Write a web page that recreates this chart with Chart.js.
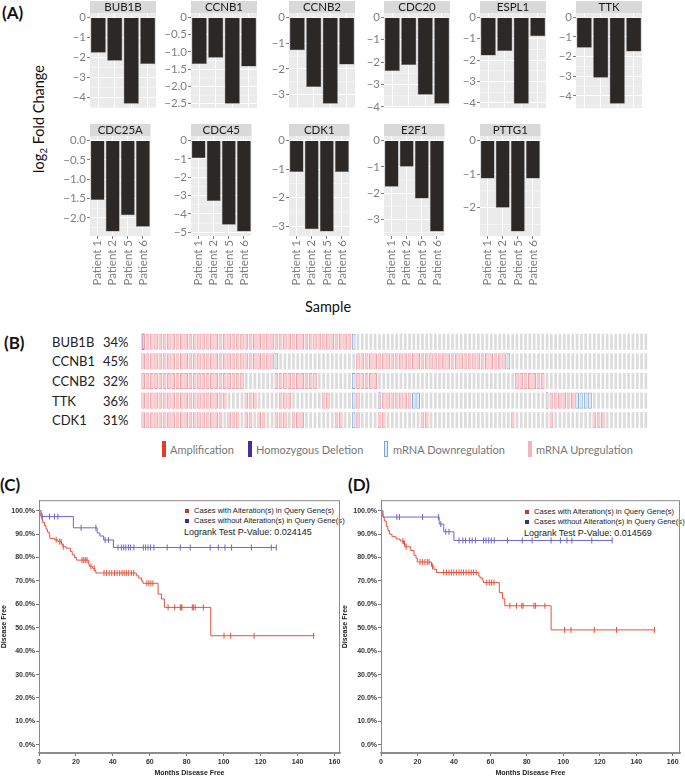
<!DOCTYPE html>
<html><head><meta charset="utf-8">
<script src="https://cdn.jsdelivr.net/npm/chart.js@4.4.1/dist/chart.umd.min.js"></script>
<style>
html,body{margin:0;padding:0;background:#fff;}
body{width:685px;height:779px;position:relative;overflow:hidden;font-family:Lato,sans-serif;}
canvas{position:absolute;}
.t{position:absolute;white-space:nowrap;line-height:1;}
.c{transform:translate(-50%,-50%);}
.l{transform:translate(0,-50%);}
.lab{font-family:Lato;font-weight:700;font-size:17px;color:#111;}
.gene{font-family:Lato;font-size:13px;color:#222;}
.leg{font-family:Lato;font-size:11px;color:#777;}
.kmleg{font-family:'Liberation Sans';font-size:7.6px;color:#222;}
.kmp{font-family:'Liberation Sans';font-size:9px;color:#222;}
.bar{position:absolute;width:4px;height:16px;}
.sq{position:absolute;width:4px;height:4px;}
</style></head><body>

<div class="t lab" style="left:2px;top:4px;">(A)</div>
<div class="t c" style="left:40px;top:119px;font-family:Lato;font-size:14.5px;color:#111;transform:translate(-50%,-50%) rotate(-90deg);">log<sub style="font-size:10px;">2</sub> Fold Change</div>
<div class="t c" style="left:328px;top:307px;font-family:Lato;font-size:14.5px;color:#111;">Sample</div>

<div class="t lab l" style="left:4px;top:342px;">(B)</div>
<div id="bLabels"></div>

<div class="bar" style="left:162px;top:441px;background:#E8392B;"></div>
<div class="t leg l" style="left:170px;top:449px;">Amplification</div>
<div class="bar" style="left:248px;top:441px;background:#4B2C9B;"></div>
<div class="t leg l" style="left:256px;top:449px;">Homozygous Deletion</div>
<div class="bar" style="left:384px;top:441px;background:#E4E9F1;box-sizing:border-box;border:1px solid #7FA8D6;"></div>
<div class="t leg l" style="left:393px;top:449px;">mRNA Downregulation</div>
<div class="bar" style="left:528px;top:441px;background:#F3B5BC;"></div>
<div class="t leg l" style="left:536px;top:449px;">mRNA Upregulation</div>

<div class="t lab l" style="left:0px;top:484px;">(C)</div>
<div class="t lab l" style="left:348px;top:484px;">(D)</div>

<div class="sq" style="left:185px;top:509px;background:#C8372D;"></div>
<div class="t kmleg l" style="left:194px;top:511px;">Cases with Alteration(s) in Query Gene(s)</div>
<div class="sq" style="left:185px;top:519px;background:#3C2D8C;"></div>
<div class="t kmleg l" style="left:194px;top:521px;">Cases without Alteration(s) in Query Gene(s)</div>
<div class="t kmp l" style="left:184px;top:532px;">Logrank Test P-Value: 0.024145</div>

<div class="sq" style="left:525px;top:510px;background:#C8372D;"></div>
<div class="t kmleg l" style="left:534px;top:512px;">Cases with Alteration(s) in Query Gene(s)</div>
<div class="sq" style="left:525px;top:520px;background:#3C2D8C;"></div>
<div class="t kmleg l" style="left:534px;top:522px;">Cases without Alteration(s) in Query Gene(s)</div>
<div class="t kmp l" style="left:524px;top:533px;">Logrank Test P-Value: 0.014569</div>

<script>
// ---------------- Panel A data ----------------
const patients = ['Patient 1','Patient 2','Patient 5','Patient 6'];
const genesA = ['BUB1B','CCNB1','CCNB2','CDC20','ESPL1','TTK','CDC25A','CDC45','CDK1','E2F1','PTTG1'];
const fcBUB1B  = [-1.78,-2.18,-4.33,-2.34];
const fcCCNB1  = [-1.35,-1.17,-2.50,-1.42];
const fcCCNB2  = [-1.28,-2.70,-3.35,-1.83];
const fcCDC20  = [-2.40,-2.13,-3.46,-3.86];
const fcESPL1  = [-1.78,-1.57,-4.04,-0.89];
const fcTTK    = [-1.55,-3.08,-4.40,-1.74];
const fcCDC25A = [-1.54,-2.35,-1.93,-2.23];
const fcCDC45  = [-0.97,-3.30,-4.60,-4.96];
const fcCDK1   = [-1.10,-3.10,-3.18,-1.10];
const fcE2F1   = [-1.76,-1.00,-2.21,-3.46];
const fcPTTG1  = [-1.13,-2.00,-2.71,-1.13];
const valuesA = [fcBUB1B,fcCCNB1,fcCCNB2,fcCDC20,fcESPL1,fcTTK,fcCDC25A,fcCDC45,fcCDK1,fcE2F1,fcPTTG1];
const yTicksA = [
  ['0','−1','−2','−3','−4'],
  ['0','−0.5','−1.0','−1.5','−2.0','−2.5'],
  ['0','−1','−2','−3'],
  ['0','−1','−2','−3','−4'],
  ['0','−1','−2','−3','−4'],
  ['0','−1','−2','−3','−4'],
  ['0.0','−0.5','−1.0','−1.5','−2.0'],
  ['0','−1','−2','−3','−4','−5'],
  ['0','−1','−2','−3'],
  ['0','−1','−2','−3'],
  ['0','−1','−2']
];

// ---------------- Panel B data (run-length coded per sample column) ----------------
// '.' none, 'U' mRNA up, 'W' mRNA down, 'D' homozygous deletion, 'X' deletion + mRNA up
const genesB = ['BUB1B','CCNB1','CCNB2','TTK','CDK1'];
const pctB = ['34%','45%','32%','36%','31%'];
const runsBUB1B = [['X',1],['U',48],['W',1],['.',68]];
const runsCCNB1 = [['U',31],['W',1],['.',18],['U',35],['W',1],['.',32]];
const runsCCNB2 = [['U',24],['.',7],['U',10],['.',8],['W',1],['U',5],['.',32],['U',7],['.',24]];
const runsTTK   = [['U',20],['.',4],['U',3],['.',5],['U',3],['.',7],['U',2],['.',5],['W',1],['U',1],['.',4],['D',1],['U',7],['W',2],['.',29],['D',1],['U',6],['W',4],['.',13]];
const runsCDK1  = [['U',19],['.',1],['U',3],['.',1],['U',2],['.',1],['U',2],['.',2],['U',3],['.',1],['U',3],['.',7],['U',2],['.',2],['W',1],['U',1],['.',4],['U',2],['.',8],['U',2],['.',19],['U',1],['.',8],['U',1],['.',9],['U',3],['.',10]];

// ---------------- Panels C / D data ----------------
const kmTicksX = [0,20,40,60,80,100,120,140,160];
const kmTicksY = [0,10,20,30,40,50,60,70,80,90,100];
const cAltT = [0,0.5,1,1.5,2,3,3.8,4.5,5.5,5.9,8.4,10.2,12.2,12.9,14.7,17,18,19.2,20.4,26.9,27.2,29,30.3,30.8,52.7,54,55.5,56.3,64.5,66.3,67.9,93,149.1];
const cAltS = [100,98.8,97.5,96.3,95,93.6,92.2,90.9,89.6,88.2,87.6,86.8,85.8,84.6,84,82.6,81.2,80,78.9,77.2,76.2,75.4,74.4,73.4,72.2,71.2,70.1,69,64.4,62.3,58.7,46.6,46.6];
const cAltCens = [9.3,11.2,12.0,13.1,23.3,24.2,25.1,26.0,28.1,29.9,35.2,36.6,38.0,39.4,40.9,42.3,43.7,45.0,46.1,47.3,48.6,50.0,51.3,58.4,59.5,60.6,61.7,69.9,73.5,76.5,77.0,77.4,83.0,83.6,84.6,89.0,100.2,103.8,116.5,148.7];
const cUnaltT = [0,1.2,18.6,31.5,33,35,40.3,128.5];
const cUnaltS = [100,97.5,92.7,90.5,89.2,87.5,84.3,84.3];
const cUnaltCens = [1.8,5.7,8.4,10.2,22.8,30.8,35.8,37.6,42.8,44.6,45.9,47.0,48.4,49.6,51.4,56.5,57.7,59.0,60.4,62.2,69.4,76.5,81.9,92.7,97.1,100.7,104.3,115.0,125.8,128.5];

const dAltT = [0,0.5,1.1,1.8,2.9,3.8,4.7,6,8.3,10.5,12.3,13.2,16.3,18.1,19.2,19.9,27.7,29,30.4,53.6,54.3,55.8,56.2,64.9,66.7,67.9,93.3,150];
const dAltS = [100,98.6,97.2,95.6,93.3,91.5,90,88.9,87.9,87.1,86,84.6,83,81,79.7,78.1,76.2,75,73.6,72.1,71.3,70.1,69.3,65,62.4,59.4,49.1,49.1];
const dAltCens = [12.0,12.9,13.8,21.4,22.8,24.1,25.4,26.4,28.3,34.4,35.9,37.3,38.6,39.9,41.3,42.8,44,45.3,46.7,48.2,49.5,50.7,52.2,58,59.4,60.7,62,70.7,74.3,77.2,77.9,83.9,84.8,89.9,100.7,104.2,117,129.2,150];
const dUnaltT = [0,1.1,31.9,34.4,40,126.8];
const dUnaltS = [100,97.3,94.3,91,87.3,87.3];
const dUnaltCens = [8.7,10.1,22.8,31.5,32.8,35.5,37.3,42.8,44.9,46.4,48.6,50,51.8,56.2,57.6,59.1,60.5,62.1,69.4,77.5,82.9,93.3,98.4,102,104.7,115.6,126.8];

// ---------------- layout ----------------
const panelLeftA = [90,191,289,384,480,576,90,191,289,384,480];
const panelW = 66, panelH = 100, stripH = 12, yAxisW = 40;

Chart.defaults.animation = false;
Chart.defaults.responsive = false;
Chart.defaults.devicePixelRatio = 1;
Chart.defaults.plugins.legend.display = false;
Chart.defaults.plugins.tooltip.enabled = false;

function makeCanvas(left, top, w, h){
  const cv = document.createElement('canvas');
  cv.width = w; cv.height = h;
  cv.style.left = left+'px'; cv.style.top = top+'px';
  cv.style.width = w+'px'; cv.style.height = h+'px';
  document.body.appendChild(cv);
  return cv;
}

const facetPlugin = {
  id:'facet',
  beforeDraw(chart){
    const {ctx, chartArea:a} = chart;
    ctx.save();
    ctx.fillStyle = '#EBEBEB';
    ctx.fillRect(a.left, a.top, a.right-a.left, a.bottom-a.top);
    ctx.fillStyle = '#D9D9D9';
    ctx.fillRect(a.left, a.top-stripH, a.right-a.left, stripH);
    ctx.fillStyle = '#1a1a1a';
    ctx.font = '11.5px Lato';
    ctx.textAlign = 'center'; ctx.textBaseline = 'middle';
    ctx.fillText(chart.options.plugins.facet.title, (a.left+a.right)/2, a.top-stripH/2+0.5);
    ctx.restore();
  },
  beforeDatasetsDraw(chart){
    const {ctx, chartArea:a} = chart;
    const y = chart.scales.y;
    const tv = y.ticks.map(t=>t.value);
    if (tv.length < 2) return;
    const step = Math.abs(tv[1]-tv[0]);
    const mids = tv.map(v=>v-step/2).concat([tv[0]+step/2]);
    ctx.save();
    ctx.strokeStyle = '#FFFFFF'; ctx.lineWidth = 0.5;
    mids.forEach(v=>{
      if (v < y.min || v > y.max) return;
      const py = y.getPixelForValue(v);
      ctx.beginPath(); ctx.moveTo(a.left, py); ctx.lineTo(a.right, py); ctx.stroke();
    });
    ctx.restore();
  }
};

genesA.forEach((g,i)=>{
  const row2 = i >= 6;
  const T = row2 ? 136 : 13;
  const L = panelLeftA[i];
  const xH = row2 ? 56 : 3;
  const cv = makeCanvas(L-yAxisW, T-stripH, yAxisW+panelW+2, stripH+panelH+xH);
  const vals = valuesA[i];
  const mn = Math.min(...vals);
  const ext = -mn*0.05;
  const tickVals = yTicksA[i].map(s=>parseFloat(s.replace('−','-')));
  new Chart(cv, {
    type:'bar',
    data:{labels:patients, datasets:[{data:vals, backgroundColor:'#2b2826', borderColor:'#6b6b6b', borderWidth:0.5, barPercentage:0.92, categoryPercentage:1}]},
    options:{
      layout:{padding:{top:stripH, right:2, left:0, bottom:0}},
      plugins:{facet:{title:g}},
      scales:{
        x:{
          grid:{color:'#FFFFFF', lineWidth:1, offset:false, drawTicks:row2, tickLength:3, tickColor:'#7f7f7f'},
          border:{display:false},
          ticks:{display:row2, minRotation:90, maxRotation:90, autoSkip:false, color:'#7f7f7f', font:{family:'Lato', size:11.5}, padding:1},
          afterFit:s=>{s.height = xH;}
        },
        y:{
          min: mn-ext, max: ext,
          afterBuildTicks:s=>{s.ticks = tickVals.map(v=>({value:v}));},
          grid:{color:'#FFFFFF', lineWidth:1, tickLength:3, tickColor:'#7f7f7f'},
          border:{display:false},
          ticks:{color:'#7f7f7f', font:{family:'Lato', size:11.5}, padding:1, callback:(v,idx)=>yTicksA[i][idx]},
          afterFit:s=>{s.width = yAxisW;}
        }
      }
    },
    plugins:[facetPlugin]
  });
});

// ---------------- Panel B ----------------
function expandRuns(runs){ const out=[]; runs.forEach(([c,n])=>{ for(let k=0;k<n;k++) out.push(c); }); return out; }
const codesB = [runsBUB1B,runsCCNB1,runsCCNB2,runsTTK,runsCDK1].map(expandRuns);
const sampleCols = codesB[0].map((_,k)=>String(k+1));
const bTop = 332, bPitch = 19.6, bLeft = 141, bWidth = 507;
const cellTypes = [
  {codes:['.','D'], bg:'#DCDCDC', bc:'#DCDCDC', bw:0, bp:0.62},
  {codes:['U','X'], bg:'#F8CDD1', bc:'#EFA1AA', bw:1, bp:0.86},
  {codes:['W'],     bg:'#E4E9F1', bc:'#7FA8D6', bw:1, bp:0.86},
  {codes:['D','X'], bg:'#4A2794', bc:'#4A2794', bw:0, bp:0.5}
];
const dsB = [];
cellTypes.forEach(tp=>{
  codesB.forEach((codes,r)=>{
    dsB.push({
      data: codes.map(c => tp.codes.includes(c) ? [r-0.41, r+0.41] : null),
      backgroundColor: tp.bg, borderColor: tp.bc, borderWidth: tp.bw, borderSkipped:false,
      barPercentage: tp.bp, categoryPercentage: 1, grouped:false
    });
  });
});
new Chart(makeCanvas(bLeft, bTop, bWidth, Math.round(bPitch*5)), {
  type:'bar',
  data:{labels:sampleCols, datasets:dsB},
  options:{
    layout:{padding:0},
    scales:{
      x:{display:false, offset:true},
      y:{display:false, min:-0.5, max:4.5, reverse:true}
    }
  }
});
const bl = document.getElementById('bLabels');
genesB.forEach((g,r)=>{
  const cy = bTop + bPitch*(r+0.5);
  bl.insertAdjacentHTML('beforeend', `<div class="t gene l" style="left:52px;top:${cy}px;">${g}</div><div class="t gene l" style="left:103px;top:${cy}px;">${pctB[r]}</div>`);
});

// ---------------- Panels C / D ----------------
function survAt(T, S, t){ let v = S[0]; for (let k=0;k<T.length;k++){ if (T[k] <= t) v = S[k]; } return v; }
const boxPlugin = {
  id:'box',
  afterDraw(chart){
    const {ctx, chartArea:a} = chart;
    ctx.save(); ctx.strokeStyle = '#8c8c8c'; ctx.lineWidth = 1;
    ctx.strokeRect(a.left+0.5, a.top+0.5, a.right-a.left-1, a.bottom-a.top);
    ctx.restore();
  }
};
function kmChart(left, width, yW, maxX, altT, altS, altC, unT, unS, unC){
  const cv = makeCanvas(left, 495, width, 284);
  const red = '#E4533D', blue = '#6C66D0';
  new Chart(cv, {
    type:'line',
    data:{datasets:[
      {data: altT.map((t,k)=>({x:t, y:altS[k]})), borderColor:red, borderWidth:1, stepped:true, pointRadius:0, fill:false},
      {data: unT.map((t,k)=>({x:t, y:unS[k]})), borderColor:blue, borderWidth:1, stepped:true, pointRadius:0, fill:false},
      {data: altC.map(t=>({x:t, y:survAt(altT, altS, t)})), showLine:false, pointStyle:'line', rotation:90, pointRadius:3, pointBorderColor:red, pointBorderWidth:1, borderColor:red},
      {data: unC.map(t=>({x:t, y:survAt(unT, unS, t)})), showLine:false, pointStyle:'line', rotation:90, pointRadius:3, pointBorderColor:blue, pointBorderWidth:1, borderColor:blue}
    ]},
    options:{
      layout:{padding:{top:4, right:2, left:0, bottom:0}},
      scales:{
        x:{type:'linear', min:0, max:maxX,
           afterBuildTicks:s=>{s.ticks = kmTicksX.map(v=>({value:v}));},
           grid:{drawOnChartArea:false, tickLength:3, tickColor:'#777'},
           border:{color:'#8c8c8c', width:1.5},
           ticks:{color:'#333', font:{family:'Liberation Sans', size:7, weight:'bold'}, padding:2, maxRotation:0},
           title:{display:true, text:'Months Disease Free', color:'#222', font:{family:'Liberation Sans', size:7, weight:'bold'}, padding:{top:6, bottom:2}},
           afterFit:s=>{s.height = 26;}
        },
        y:{type:'linear', min:-3.5, max:104.5,
           afterBuildTicks:s=>{s.ticks = kmTicksY.map(v=>({value:v}));},
           grid:{drawOnChartArea:false, tickLength:3, tickColor:'#777'},
           border:{color:'#8c8c8c', width:1},
           ticks:{color:'#333', font:{family:'Liberation Sans', size:7, weight:'bold'}, padding:1, callback:v=>v.toFixed(1)+'%'},
           title:{display:true, text:'Disease Free', color:'#222', font:{family:'Liberation Sans', size:7, weight:'bold'}, padding:{top:0, bottom:2}},
           afterFit:s=>{s.width = yW;}
        }
      }
    },
    plugins:[boxPlugin]
  });
}
kmChart(0, 345, 39, 163, cAltT, cAltS, cAltCens, cUnaltT, cUnaltS, cUnaltCens);
kmChart(341, 344, 40, 164, dAltT, dAltS, dAltCens, dUnaltT, dUnaltS, dUnaltCens);
</script>
</body></html>
